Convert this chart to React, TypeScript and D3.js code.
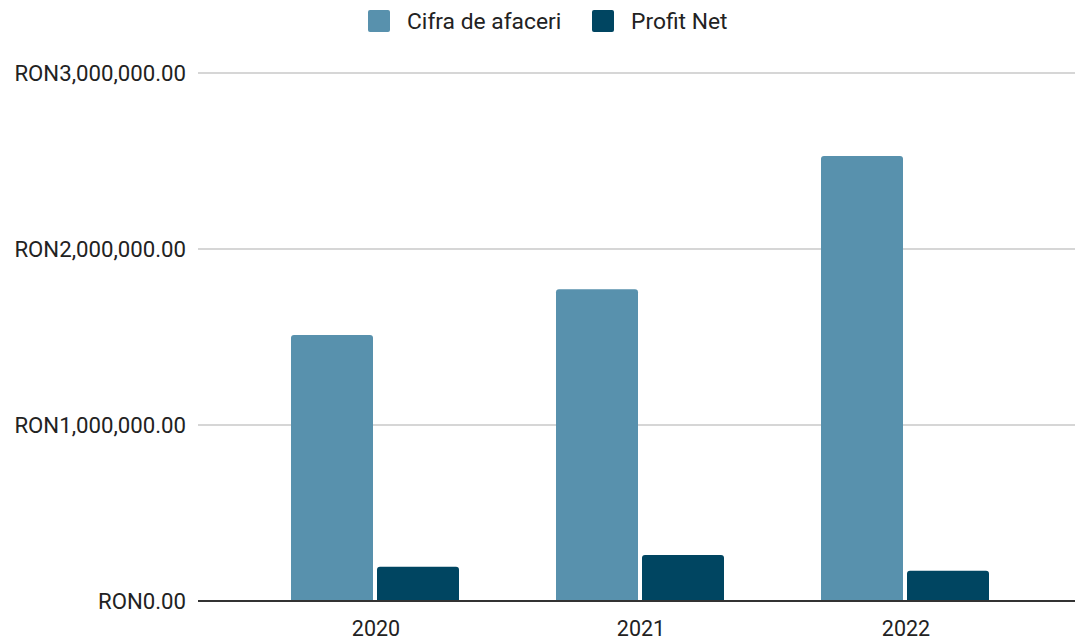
import React from "react";
import * as d3 from "d3";

const years = ["2020", "2021", "2022"];
const seriesNames = ["Cifra de afaceri", "Profit Net"];
const cifraAfaceri = [1511000, 1771000, 2528000];
const profitNet = [195000, 261000, 172000];
const yTicks = [0, 1000000, 2000000, 3000000];
const colors = ["#5891ad", "#004561"];

const W = 1075;
const H = 640;
const plotLeft = 198;
const plotRight = 1075;
const plotTop = 73;
const plotBottom = 601;
const FONT = "Roboto, 'Noto Sans', sans-serif";

function topRoundedBar(x: number, y: number, w: number, h: number, r: number) {
  const rr = Math.min(r, h, w / 2);
  return `M${x},${y + h}V${y + rr}Q${x},${y} ${x + rr},${y}H${x + w - rr}Q${x + w},${y} ${x + w},${y + rr}V${y + h}Z`;
}

export default function App() {
  const y = d3.scaleLinear().domain([0, 3000000]).range([plotBottom, plotTop]);
  const x = d3.scaleBand().domain(years).range([242.5, 1037.5]).padding(0);
  const barW = 82;
  const gap = 4;
  const fmt = (v: number) => "RON" + d3.format(",.2f")(v);
  const data = [cifraAfaceri, profitNet];

  return (
    <div style={{ position: "absolute", left: 0, top: 0 }}>
      <svg width={W} height={H} style={{ display: "block", background: "#fff" }} fontFamily={FONT}>
        {yTicks.map((t) => (
          <g key={t}>
            {t !== 0 && (
              <line x1={plotLeft} x2={plotRight} y1={y(t)} y2={y(t)} stroke="#d6d6d6" strokeWidth={2} />
            )}
            <text x={186} y={y(t)} dy="0.35em" textAnchor="end" fontSize={22.2} fill="#222">
              {fmt(t)}
            </text>
          </g>
        ))}
        {years.map((yr, i) => {
          const c = (x(yr) as number) + x.bandwidth() / 2;
          return (
            <g key={yr}>
              {data.map((s, j) => {
                const bx = j === 0 ? c - gap / 2 - barW : c + gap / 2;
                const by = y(s[i]);
                return (
                  <path key={j} d={topRoundedBar(bx, by, barW, plotBottom - by, 3)} fill={colors[j]} />
                );
              })}
              <text x={c + 1} y={636} textAnchor="middle" fontSize={21.5} fill="#222">
                {yr}
              </text>
            </g>
          );
        })}
        <line x1={plotLeft} x2={plotRight} y1={plotBottom} y2={plotBottom} stroke="#333" strokeWidth={2} />
        {seriesNames.map((n, i) => {
          const lx = i === 0 ? 368 : 592;
          return (
            <g key={n}>
              <rect x={lx} y={10} width={22} height={22} rx={2} fill={colors[i]} />
              <text x={lx + 39} y={21} dy="0.35em" fontSize={22.8} fill="#222">
                {n}
              </text>
            </g>
          );
        })}
      </svg>
    </div>
  );
}
